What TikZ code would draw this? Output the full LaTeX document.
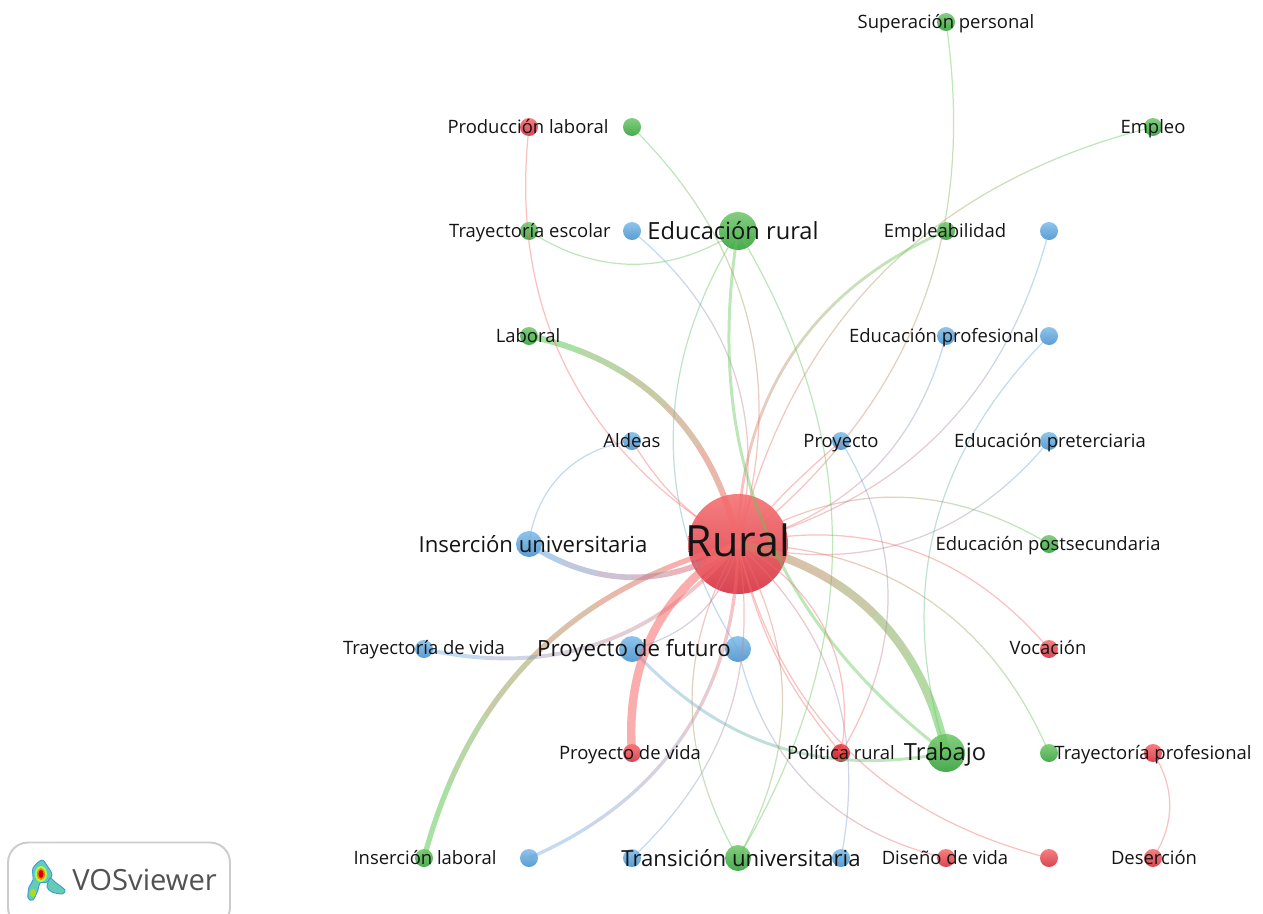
\documentclass[tikz,border=0pt]{standalone}
\usepackage{fontspec}
\setmainfont{Open Sans}
\usepackage{tikz}
\definecolor{RedTop}{HTML}{F67F80}
\definecolor{RedBottom}{HTML}{D94552}
\definecolor{DeepRedTop}{HTML}{E84A4A}
\definecolor{DeepRedBottom}{HTML}{D42A35}
\definecolor{GreenTop}{HTML}{84CE80}
\definecolor{GreenBottom}{HTML}{48AA4E}
\definecolor{BlueTop}{HTML}{8FC5EC}
\definecolor{BlueBottom}{HTML}{5A9DD2}
\definecolor{LinkRed}{HTML}{F56A6A}
\definecolor{LinkGreen}{HTML}{62C658}
\definecolor{LinkBlue}{HTML}{6FA6DC}
\tikzset{
  redterm/.style={
    shape=circle,
    inner sep=0pt,
    top color=RedTop,
    bottom color=RedBottom,
    minimum size=#1
  },
  redterm/.default=0.36cm,
  greenterm/.style={
    shape=circle,
    inner sep=0pt,
    top color=GreenTop,
    bottom color=GreenBottom,
    minimum size=#1
  },
  greenterm/.default=0.36cm,
  blueterm/.style={
    shape=circle,
    inner sep=0pt,
    top color=BlueTop,
    bottom color=BlueBottom,
    minimum size=#1
  },
  blueterm/.default=0.36cm,
  termlabel/.style={
    anchor=base,
    inner sep=0pt,
    text=black!92,
    font=\fontsize{#1}{#1}\selectfont
  },
  termlabel/.default=10.5,
  link/.style={line width=0.7pt, opacity=0.42},
  heavy/.style={line width=#1, opacity=0.55}
}
\newcommand{\gradlink}[7]{%
  \foreach \n in {0,...,5} {
    \pgfmathsetmacro{\share}{100-\n*20}
    \pgfmathsetmacro{\skiplen}{\n*#7*0.1005}
    \pgfmathsetmacro{\seglen}{\n==5 ? 1000 : #7*0.1005}
    \draw[link, #4, draw=#5!\share!#6, dash pattern=on 0pt off \skiplen pt on \seglen pt off 3000pt] (#1.center) to[#3] (#2.center);
  }
}
\begin{document}
\begin{tikzpicture}[x=0.02cm,y=-0.02cm]
    \useasboundingbox (0,0) rectangle (1263,913);
    \clip (0,0) rectangle (1263,913);
    \node[greenterm] (superacion) at (946,22) {};
    \node[redterm] (produccion) at (529,127) {};
    \node[greenterm] (greenA) at (632,127) {};
    \node[greenterm] (empleo) at (1153,127) {};
    \node[greenterm] (escolar) at (529,231) {};
    \node[blueterm] (blueA) at (632,231) {};
    \node[greenterm=0.76cm] (edurural) at (738,231) {};
    \node[greenterm] (empleabilidad) at (946,231) {};
    \node[blueterm] (blueB) at (1049,231) {};
    \node[greenterm] (laboral) at (529,336) {};
    \node[blueterm] (eduprof) at (946,336) {};
    \node[blueterm] (blueC) at (1049,336) {};
    \node[blueterm] (aldeas) at (632,441) {};
    \node[blueterm] (proyecto) at (841,441) {};
    \node[blueterm] (eduter) at (1049,441) {};
    \node[blueterm=0.52cm] (insuni) at (529,544) {};
    \node[redterm=2cm] (rural) at (738,544) {};
    \node[greenterm] (edupost) at (1049,544) {};
    \node[blueterm] (trayvida) at (424,649) {};
    \node[blueterm=0.52cm] (futuro) at (632,649) {};
    \node[blueterm=0.52cm] (blueD) at (738,649) {};
    \node[redterm] (vocacion) at (1049,649) {};
    \node[redterm] (proyvida) at (632,753) {};
    \node[redterm, top color=DeepRedTop, bottom color=DeepRedBottom] (politica) at (841,753) {};
    \node[greenterm=0.76cm] (trabajo) at (946,753) {};
    \node[greenterm] (greenB) at (1049,753) {};
    \node[redterm] (trayprof) at (1153,753) {};
    \node[greenterm] (inslab) at (424,858) {};
    \node[blueterm] (blueE) at (529,858) {};
    \node[blueterm] (blueF) at (632,858) {};
    \node[greenterm=0.52cm] (transicion) at (738,858) {};
    \node[blueterm] (blueG) at (841,858) {};
    \node[redterm] (diseno) at (946,858) {};
    \node[redterm] (redA) at (1049,858) {};
    \node[redterm] (desercion) at (1153,858) {};
    \gradlink{superacion}{rural}{bend left=30}{line width=0.7pt}{LinkGreen}{LinkRed}{562}
    \gradlink{empleo}{rural}{bend right=31}{line width=0.7pt}{LinkGreen}{LinkRed}{588}
    \gradlink{empleabilidad}{rural}{bend right=33}{line width=1.6pt}{LinkGreen}{LinkRed}{376}
    \gradlink{greenA}{rural}{bend left=31}{line width=0.7pt}{LinkGreen}{LinkRed}{430}
    \gradlink{blueA}{rural}{bend left=32}{line width=0.7pt}{LinkBlue}{LinkRed}{330}
    \gradlink{laboral}{rural}{bend left=33}{heavy=3.4pt}{LinkGreen}{LinkRed}{295}
    \gradlink{edurural}{blueD}{bend right=32}{line width=0.7pt}{LinkGreen}{LinkBlue}{418}
    \gradlink{proyecto}{politica}{bend left=31}{line width=0.7pt}{LinkBlue}{LinkRed}{312}
    \gradlink{eduprof}{rural}{bend left=30}{line width=0.7pt}{LinkBlue}{LinkRed}{294}
    \gradlink{blueB}{rural}{bend left=30}{line width=0.7pt}{LinkBlue}{LinkRed}{441}
    \gradlink{blueC}{trabajo}{bend right=31}{line width=0.7pt}{LinkBlue}{LinkGreen}{430}
    \gradlink{eduter}{rural}{bend left=32}{line width=0.7pt}{LinkBlue}{LinkRed}{328}
    \gradlink{edupost}{rural}{bend right=31}{line width=0.7pt}{LinkGreen}{LinkRed}{311}
    \gradlink{greenB}{rural}{bend right=33}{line width=0.7pt}{LinkGreen}{LinkRed}{375}
    \gradlink{rural}{trabajo}{bend left=33}{heavy=4.8pt}{LinkRed!70!LinkGreen}{LinkGreen}{295}
    \gradlink{futuro}{trabajo}{bend right=29}{line width=1.7pt}{LinkBlue}{LinkGreen}{331}
    \gradlink{rural}{blueG}{bend left=29}{line width=0.7pt}{LinkRed}{LinkBlue}{330}
    \gradlink{blueD}{diseno}{bend right=32}{line width=0.7pt}{LinkBlue}{LinkRed}{295}
    \gradlink{rural}{transicion}{bend left=29}{line width=0.7pt}{LinkRed}{LinkGreen}{314}
    \gradlink{rural}{transicion}{bend right=30}{line width=0.7pt}{LinkRed}{LinkGreen}{314}
    \gradlink{blueF}{rural}{bend right=28}{line width=0.7pt}{LinkBlue}{LinkRed}{331}
    \gradlink{blueE}{rural}{bend right=33}{line width=1.9pt}{LinkBlue}{LinkRed}{377}
    \gradlink{inslab}{rural}{bend left=30}{heavy=3pt}{LinkGreen}{LinkRed}{444}
    \gradlink{trayvida}{rural}{bend right=31}{line width=2.2pt}{LinkBlue}{LinkRed}{331}
    \gradlink{futuro}{rural}{bend right=31}{line width=0.7pt}{LinkBlue}{LinkRed}{149}
    \gradlink{insuni}{rural}{bend right=33}{heavy=3.2pt}{LinkBlue}{LinkRed}{209}
    \draw[link, draw=LinkGreen] (escolar.center) to[bend right=33] (edurural.center);
    \draw[link, draw=LinkGreen, line width=1.7pt] (edurural.center) to[bend right=31] (trabajo.center);
    \draw[link, draw=LinkGreen] (edurural.center) to[bend left=31] (transicion.center);
    \draw[link, draw=LinkRed] (produccion.center) to[bend right=33] (rural.center);
    \draw[link, draw=LinkRed] (proyecto.center) to[bend right=4] (rural.center);
    \draw[link, draw=LinkRed] (vocacion.center) to[bend right=31] (rural.center);
    \draw[link, draw=LinkRed] (politica.center) to[bend left=13] (rural.center);
    \draw[link, draw=LinkRed] (politica.center) to[bend right=36] (rural.center);
    \draw[link, draw=LinkRed] (rural.center) to[bend right=31] (redA.center);
    \draw[link, heavy=4.8pt, draw=LinkRed] (proyvida.center) to[bend left=31] (rural.center);
    \draw[link, draw=LinkBlue] (aldeas.center) to[bend right=38] (insuni.center);
    \draw[link, draw=LinkRed] (aldeas.center) to[bend right=14] (rural.center);
    \draw[link, draw=LinkRed] (trayprof.center) to[bend left=33] (desercion.center);
    \node[termlabel] (labelsuperacion) at (946,28) {Superación personal};
    \node[termlabel] (labelproduccion) at (528,133) {Producción laboral};
    \node[termlabel] (labelempleo) at (1153,133) {Empleo};
    \node[termlabel] (labelescolar) at (530,237) {Trayectoría escolar};
    \node[termlabel=13.45] (labeledurural) at (733,239) {Educación rural};
    \node[termlabel] (labelempleabilidad) at (945,237) {Empleabilidad};
    \node[termlabel] (labellaboral) at (528,342) {Laboral};
    \node[termlabel] (labeleduprof) at (944,342) {Educación profesional};
    \node[termlabel] (labelaldeas) at (632,447) {Aldeas};
    \node[termlabel] (labelproyecto) at (841,447) {Proyecto};
    \node[termlabel] (labeleduter) at (1050,447) {Educación preterciaria};
    \node[termlabel=12.6] (labelinsuni) at (533,552) {Inserción universitaria};
    \node[termlabel=24.5] (labelrural) at (738,556) {Rural};
    \node[termlabel] (labeledupost) at (1048,550) {Educación postsecundaria};
    \node[termlabel] (labeltrayvida) at (424,654) {Trayectoría de vida};
    \node[termlabel=12.7] (labelfuturo) at (634,656) {Proyecto de futuro};
    \node[termlabel] (labelvocacion) at (1048,654) {Vocación};
    \node[termlabel] (labelproyvida) at (630,759) {Proyecto de vida};
    \node[termlabel] (labelpolitica) at (841,759) {Política rural};
    \node[termlabel=13.45] (labeltrabajo) at (945,760) {Trabajo};
    \node[termlabel] (labeltrayprof) at (1153,759) {Trayectoría profesional};
    \node[termlabel] (labelinslab) at (425,864) {Inserción laboral};
    \node[termlabel=12.6] (labeltransicion) at (741,866) {Transición universitaria};
    \node[termlabel] (labeldiseno) at (945,864) {Diseño de vida};
    \node[termlabel] (labeldesercion) at (1154,864) {Deserción};
    \node[draw=black!20, line width=1.1pt, rounded corners=0.4cm, fill=white, minimum width=4.44cm, minimum height=1.7cm] (logobox) at (119,885) {};
    \draw[draw=cyan!70!blue!80, line width=0.5pt, fill=cyan!45!green!60] plot[smooth cycle] coordinates {(42,860) (48,867) (52,875) (47,882) (40,883) (38,890) (33,900) (28,898) (29,887) (33,880) (33,868)};
    \draw[draw=cyan!70!blue!80, line width=0.5pt, fill=cyan!45!green!60] plot[smooth cycle] coordinates {(50,878) (55,882) (65,890) (62,894) (52,892) (47,887)};
    \fill[green!50!yellow!70] (41,874) ellipse (6 and 8);
    \fill[orange] (41,874) ellipse (4 and 6);
    \fill[red!85!black] (41,874) ellipse (2.5 and 4);
    \fill[yellow!70!green] (33,893) ellipse (3 and 4);
    \node[inner sep=0pt, text=black!68, font=\fontsize{16.6}{16.6}\selectfont, anchor=west] (logotext) at (72,880) {VOSviewer};
\end{tikzpicture}
\end{document}
